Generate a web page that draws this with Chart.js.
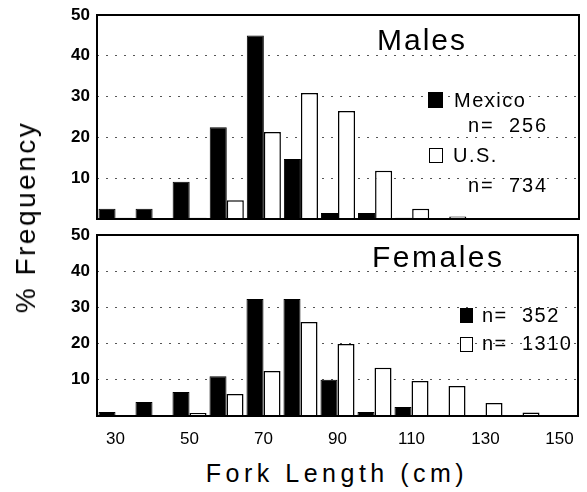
<!DOCTYPE html>
<html>
<head>
<meta charset="utf-8">
<script src="https://cdn.jsdelivr.net/npm/chart.js@4"></script>
<style>
  html, body { margin: 0; padding: 0; background: #fff; }
  body { width: 587px; height: 492px; position: relative; overflow: hidden;
         font-family: "Liberation Sans", Arial, Helvetica, sans-serif; color: #000; }
  .panel { position: absolute; left: 0; width: 587px; }
  .txt { position: absolute; white-space: nowrap; line-height: 1; }
  .sq { position: absolute; box-sizing: border-box; border: 1.5px solid #000; }
</style>
</head>
<body>

<div class="panel" style="top:0;height:222px"><canvas id="malesChart"></canvas></div>
<div class="panel" style="top:220px;height:230px"><canvas id="femalesChart"></canvas></div>

<!-- textos de los paneles -->
<div class="txt" style="left:377px;top:25px;font-size:30px;letter-spacing:2px">Males</div>
<div class="sq" style="left:428px;top:92px;width:15px;height:16px;background:#000"></div>
<div class="txt" style="left:454px;top:90px;font-size:20px;letter-spacing:1.5px">Mexico</div>
<div class="txt" style="left:468px;top:115px;font-size:20px;letter-spacing:1.8px">n= &nbsp;256</div>
<div class="sq" style="left:429px;top:148px;width:14px;height:15px;background:#fff"></div>
<div class="txt" style="left:453px;top:145px;font-size:20px;letter-spacing:1.5px">U.S.</div>
<div class="txt" style="left:468px;top:175px;font-size:20px;letter-spacing:1.8px">n= &nbsp;734</div>

<div class="txt" style="left:372px;top:242px;font-size:30px;letter-spacing:2.5px">Females</div>
<div class="sq" style="left:460px;top:308px;width:13px;height:15px;background:#000"></div>
<div class="txt" style="left:482px;top:305px;font-size:20px;letter-spacing:1.5px">n= &nbsp;352</div>
<div class="sq" style="left:460px;top:337px;width:13px;height:15px;background:#fff"></div>
<div class="txt" style="left:482px;top:333px;font-size:20px;letter-spacing:1.5px">n= &nbsp;1310</div>

<!-- títulos de ejes -->
<div class="txt" style="left:26px;top:217px;font-size:28px;letter-spacing:2.5px;transform:translate(-50%,-50%) rotate(-90deg)">% Frequency</div>
<div class="txt" style="left:337px;top:473px;font-size:25px;letter-spacing:4.5px;transform:translate(-50%,-50%)">Fork Length (cm)</div>

<script>
// Clases de longitud (cm)
const lengthBins = ['30', '40', '50', '60', '70', '80', '90', '100', '110', '120', '130', '140', '150'];

// % de frecuencia, machos
const malesMexico = [2.5, 2.5, 9.1, 22.5, 45, 14.7, 1.5, 1.5, 0.3, 0, 0, 0, 0];
const malesUS     = [0.3, 0.2, 0.3, 4.6, 21.3, 30.9, 26.5, 11.8, 2.5, 0.6, 0, 0, 0];

// % de frecuencia, hembras
const femalesMexico = [1.1, 3.9, 6.6, 11, 32.3, 32.3, 10, 1.1, 2.5, 0.3, 0, 0, 0];
const femalesUS     = [0.2, 0, 0.8, 6.1, 12.4, 26, 19.9, 13.3, 9.7, 8.3, 3.6, 1, 0.2];

const yTicks = [10, 20, 30, 40, 50];

const FONT = '"Liberation Sans", Arial, Helvetica, sans-serif';

// marco negro alrededor del área del gráfico
const framePlugin = {
    id: 'frame',
    afterDraw(chart) {
        const a = chart.chartArea;
        const ctx = chart.ctx;
        ctx.save();
        ctx.strokeStyle = '#000';
        ctx.lineWidth = 2;
        ctx.strokeRect(a.left, a.top, a.right - a.left, a.bottom - a.top);
        ctx.restore();
    }
};

function makeDatasets(mex, us) {
    return [
        {
            label: 'Mexico',
            data: mex,
            backgroundColor: '#000',
            borderColor: '#000',
            borderWidth: 1
        },
        {
            label: 'U.S.',
            data: us,
            backgroundColor: '#fff',
            borderColor: '#000',
            borderWidth: 1.5
        }
    ];
}

function makeOptions(showX, padTop) {
    const xScale = {
        display: showX,
        grid: { display: false, drawTicks: false },
        border: { display: false },
        ticks: {
            color: '#000',
            padding: 13,
            autoSkip: false,
            maxRotation: 0,
            font: { family: FONT, size: 17 },
            callback: function(value, index) {
                return index % 2 === 0 ? this.getLabelForValue(value) : '';
            }
        }
    };
    if (showX) {
        xScale.afterFit = scale => { scale.height = 34; };
    }

    return {
        responsive: true,
        maintainAspectRatio: false,
        animation: false,
        layout: { padding: { top: padTop, right: 8, left: 0, bottom: showX ? 0 : 3 } },
        datasets: { bar: { categoryPercentage: 0.92, barPercentage: 1.0 } },
        plugins: { legend: { display: false }, tooltip: { enabled: false } },
        scales: {
            x: xScale,
            y: {
                min: 0,
                max: 50,
                afterFit: scale => {
                    scale.width = 97;
                    scale.paddingTop = 0;
                    scale.paddingBottom = 0;
                },
                afterBuildTicks: scale => {
                    scale.ticks = [0].concat(yTicks).map(v => ({ value: v }));
                },
                grid: {
                    drawTicks: false,
                    lineWidth: 1,
                    color: ctx => (ctx.tick && (ctx.tick.value === 0 || ctx.tick.value === 50)) ? 'rgba(0,0,0,0)' : '#555'
                },
                border: { display: false, dash: [2, 7] },
                ticks: {
                    color: '#000',
                    padding: 7,
                    font: { family: FONT, size: 17, weight: 'bold' },
                    callback: value => value === 0 ? '' : value
                }
            }
        }
    };
}

document.addEventListener('DOMContentLoaded', function() {
    new Chart(document.getElementById('malesChart').getContext('2d'), {
        type: 'bar',
        data: { labels: lengthBins, datasets: makeDatasets(malesMexico, malesUS) },
        options: makeOptions(false, 15),
        plugins: [framePlugin]
    });

    new Chart(document.getElementById('femalesChart').getContext('2d'), {
        type: 'bar',
        data: { labels: lengthBins, datasets: makeDatasets(femalesMexico, femalesUS) },
        options: makeOptions(true, 15),
        plugins: [framePlugin]
    });
});
</script>
</body>
</html>
